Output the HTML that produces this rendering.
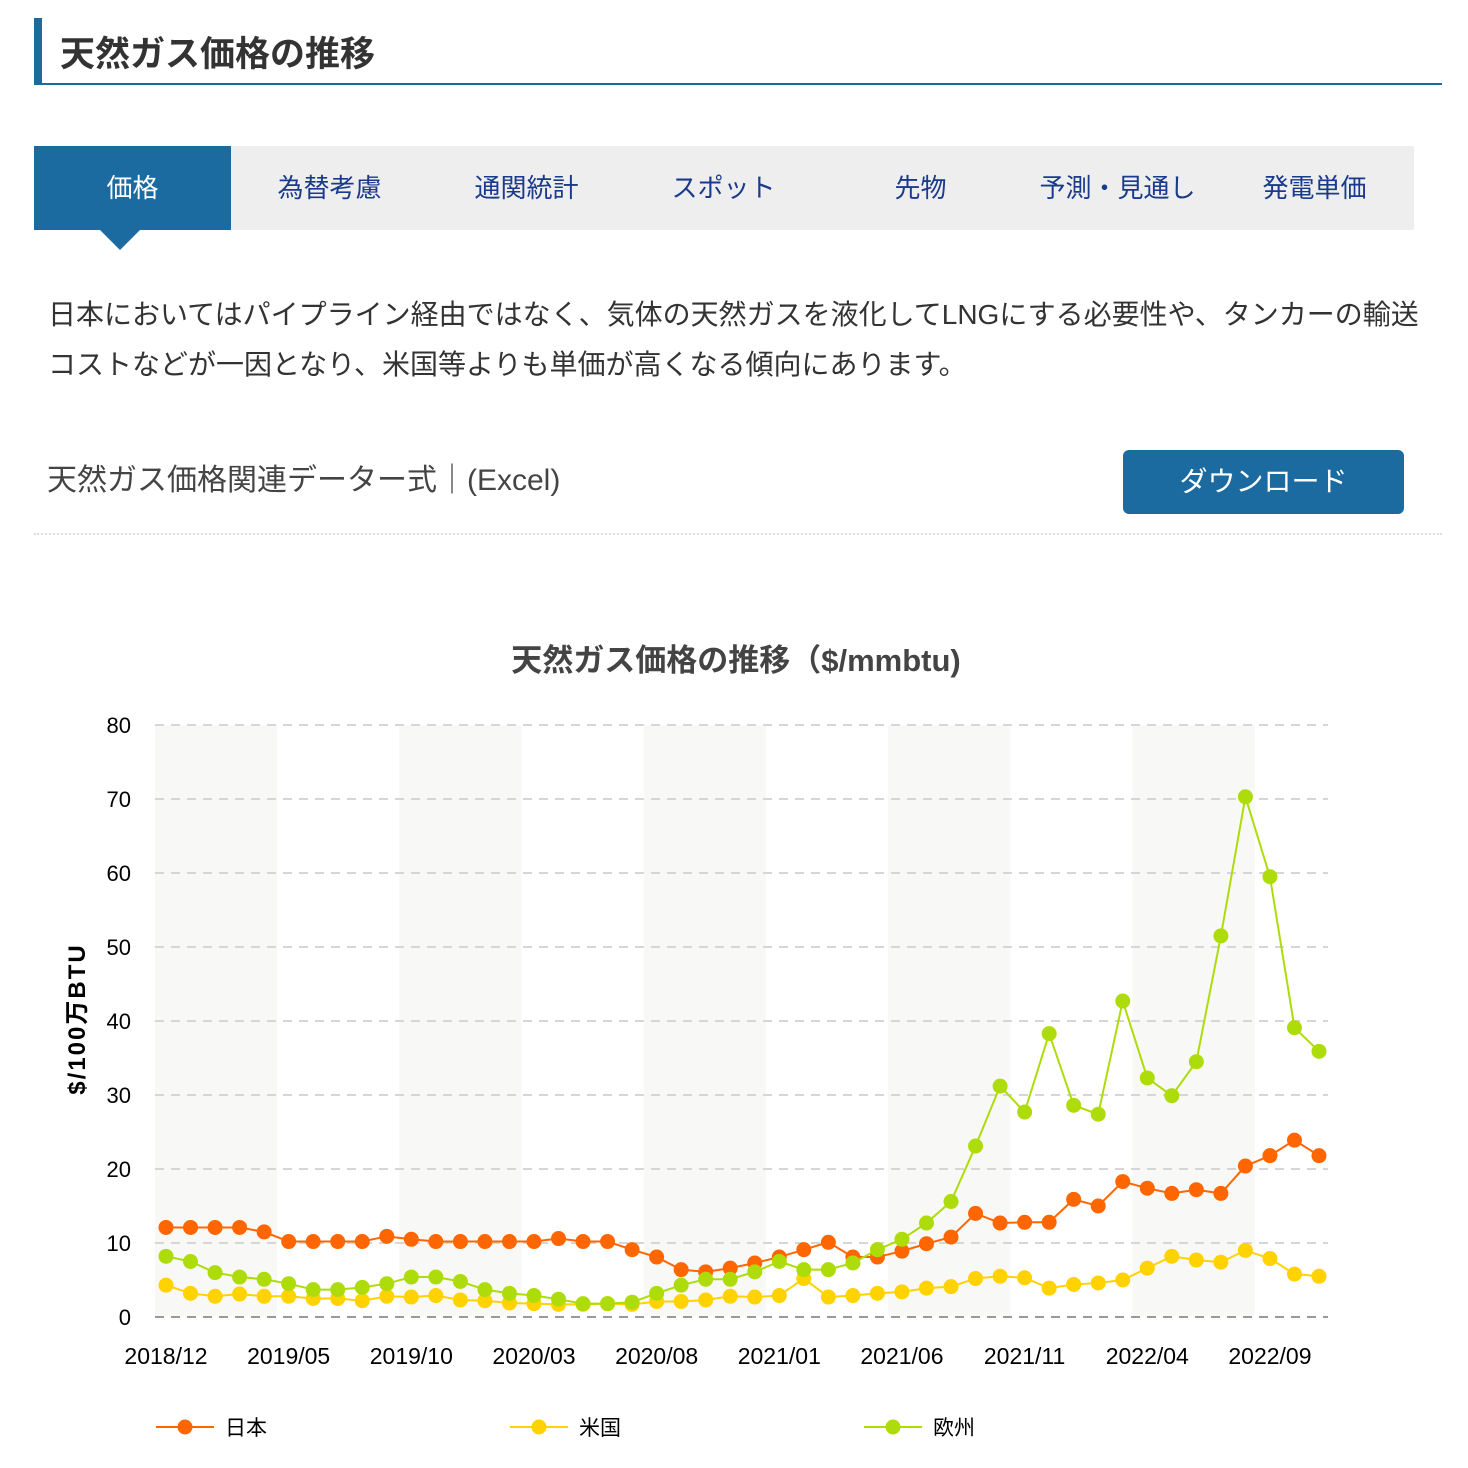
<!DOCTYPE html>
<html><head><meta charset="utf-8">
<style>
body{margin:0;width:1468px;height:1468px;background:#fff;font-family:"Liberation Sans","Noto Sans CJK JP",sans-serif;position:relative;overflow:hidden}
.abs{position:absolute}
.tab{position:absolute;top:146px;height:84px;line-height:84px;text-align:center;font-size:26px;color:#1a3a8c;width:197px}
</style></head><body>
<div class="abs" style="left:34px;top:18px;width:8px;height:67px;background:#1b6aa0"></div>
<div class="abs" style="left:60px;top:26px;font-size:35px;font-weight:bold;color:#333">天然ガス価格の推移</div>
<div class="abs" style="left:34px;top:83px;width:1408px;height:2px;background:#1b6aa0"></div>
<div class="abs" style="left:34px;top:146px;width:1380px;height:84px;background:#eee"></div>
<div class="tab" style="left:34px;background:#1b6aa0;color:#fff">価格</div>
<div class="abs" style="left:100px;top:230px;width:0;height:0;border-left:20px solid transparent;border-right:20px solid transparent;border-top:20px solid #1b6aa0"></div>
<div class="tab" style="left:231px">為替考慮</div>
<div class="tab" style="left:428px">通関統計</div>
<div class="tab" style="left:625px">スポット</div>
<div class="tab" style="left:822px">先物</div>
<div class="tab" style="left:1019px">予測・見通し</div>
<div class="tab" style="left:1216px">発電単価</div>
<div class="abs" style="left:48px;top:290px;width:1410px;font-size:28px;line-height:50px;color:#333;white-space:nowrap">日本においてはパイプライン経由ではなく、気体の天然ガスを液化してLNGにする必要性や、タンカーの輸送<br>コストなどが一因となり、米国等よりも単価が高くなる傾向にあります。</div>
<div class="abs" style="left:47px;top:455px;font-size:30px;color:#444">天然ガス価格関連データー式｜(Excel)</div>
<div class="abs" style="left:1123px;top:450px;width:281px;height:64px;line-height:64px;border-radius:6px;background:#1b6aa0;color:#fff;text-align:center;font-size:28px">ダウンロード</div>
<div class="abs" style="left:34px;top:533px;width:1408px;border-top:2px dotted #ddd"></div>
<svg class="abs" style="left:0;top:0" width="1468" height="1468" id="chart"></svg>
<script>
const labels=["2018/12","2019/05","2019/10","2020/03","2020/08","2021/01","2021/06","2021/11","2022/04","2022/09"];
const yTicks=[0,10,20,30,40,50,60,70,80];
const japan=[12.1,12.1,12.1,12.1,11.5,10.2,10.2,10.2,10.2,10.9,10.5,10.2,10.2,10.2,10.2,10.2,10.6,10.2,10.2,9.1,8.1,6.4,6.1,6.6,7.3,8.1,9.1,10.1,8.1,8.1,8.9,9.9,10.8,14.0,12.7,12.8,12.8,15.9,15.0,18.3,17.4,16.7,17.2,16.7,20.4,21.8,23.9,21.8];
const usa=[4.3,3.2,2.8,3.1,2.8,2.8,2.5,2.5,2.2,2.8,2.7,2.9,2.3,2.2,1.9,1.8,1.7,1.7,1.8,1.7,2.1,2.1,2.3,2.8,2.7,2.9,5.2,2.7,2.9,3.2,3.4,3.9,4.1,5.2,5.5,5.3,3.9,4.4,4.6,5.0,6.6,8.2,7.7,7.4,9.0,7.9,5.8,5.5];
const europe=[8.2,7.5,6.0,5.4,5.1,4.5,3.7,3.7,4.0,4.5,5.4,5.4,4.8,3.7,3.2,2.9,2.4,1.8,1.8,2.0,3.2,4.3,5.1,5.1,6.1,7.5,6.4,6.4,7.3,9.1,10.5,12.7,15.6,23.1,31.2,27.7,38.3,28.6,27.4,42.7,32.3,29.9,34.5,51.5,70.3,59.5,39.1,35.9];
const series=[{name:"日本",key:"japan",data:japan,color:"#ff6600"},{name:"米国",key:"usa",data:usa,color:"#ffd200"},{name:"欧州",key:"europe",data:europe,color:"#aedc0a"}];
const svg=document.getElementById('chart');const NS="http://www.w3.org/2000/svg";
const L=155,R=1328,T=725,B=1317,N=japan.length;
const X0=166,X1=1319,step=(X1-X0)/(N-1);
const x=i=>X0+i*step;const y=v=>B-(v/80)*(B-T);
const band=(R-L)/N*5;
for(let b=0;b*10<N;b++){const r=mk0(b);}
function mk(t,a,p){const e=document.createElementNS(NS,t);for(const k in a)e.setAttribute(k,a[k]);(p||svg).appendChild(e);return e;}
function mk0(b){const r=mk('rect',{x:L+b*2*band,y:T,width:band,height:B-T,fill:'#f8f8f6'});

return r;}
yTicks.forEach(v=>{const l=mk('line',{x1:L,x2:R,y1:y(v),y2:y(v),stroke:v==0?'#999':'#d6d6d6','stroke-width':2,'stroke-dasharray':'9,7'});


const t=mk('text',{x:131,y:y(v)+8,'text-anchor':'end','font-size':22,fill:'#000'});t.textContent=v;

});
labels.forEach((s,j)=>{const t=mk('text',{x:x(j*5),y:1364,'text-anchor':'middle','font-size':23,fill:'#000'});t.textContent=s;

});
const tt=mk('text',{x:736,y:671,'text-anchor':'middle','font-size':31,'font-weight':'bold',fill:'#444'});tt.textContent="天然ガス価格の推移（$/mmbtu)";


const yt=mk('text',{x:0,y:0,'text-anchor':'middle','font-size':24,'font-weight':'bold','letter-spacing':2,fill:'#000',transform:'translate(85,1019) rotate(-90)'});yt.textContent="$/100万BTU";


series.forEach((s,si)=>{const g=mk('g',{});


mk('polyline',{points:s.data.map((v,i)=>x(i)+','+y(v)).join(' '),fill:'none',stroke:s.color,'stroke-width':2},g);
s.data.forEach((v,i)=>{const c=mk('circle',{cx:x(i),cy:y(v),r:7.5,fill:s.color},g);

});
const lx=156+si*354;const lg=mk('g',{});


mk('line',{x1:lx,x2:lx+58,y1:1427,y2:1427,stroke:s.color,'stroke-width':2},lg);
mk('circle',{cx:lx+29,cy:1427,r:7.5,fill:s.color},lg);
const t=mk('text',{x:lx+69,y:1435,'font-size':21,fill:'#000'},lg);t.textContent=s.name;});
</script>
</body></html>
